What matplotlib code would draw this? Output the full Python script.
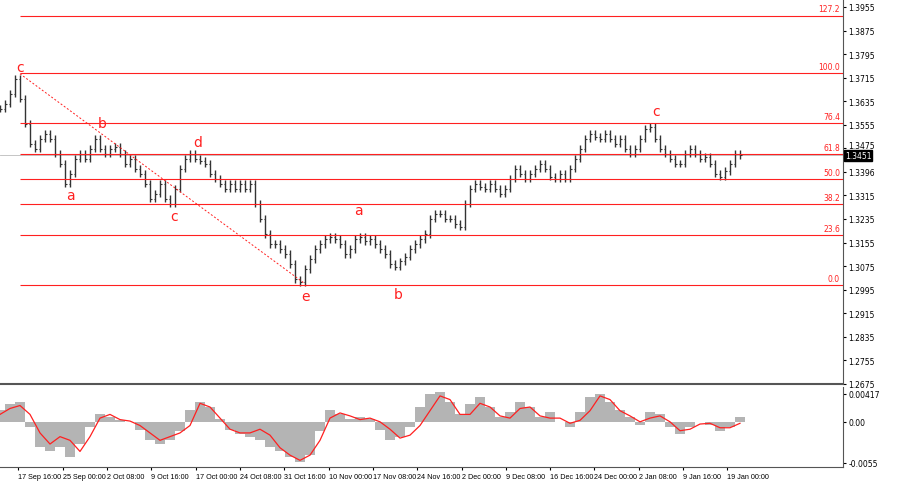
import matplotlib
matplotlib.use("Agg")
import matplotlib.pyplot as plt
import matplotlib.transforms as mtrans
import numpy as np

closes = [1.3609,1.3626,1.3660,1.3711,1.3643,1.3558,1.3490,1.3473,1.3507,1.3524,1.3507,1.3456,1.3422,1.3354,1.3388,
1.3439,1.3456,1.3439,1.3473,1.3507,1.3473,1.3456,1.3473,1.3480,1.3456,1.3422,1.3439,1.3405,1.3388,1.3354,
1.3303,1.3320,1.3354,1.3303,1.3286,1.3337,1.3405,1.3439,1.3456,1.3439,1.3432,1.3422,1.3388,1.3371,1.3354,
1.3337,1.3354,1.3337,1.3354,1.3337,1.3354,1.3286,1.3235,1.3184,1.3150,1.3150,1.3133,1.3116,1.3082,1.3031,
1.3021,1.3065,1.3099,1.3133,1.3150,1.3167,1.3174,1.3167,1.3150,1.3116,1.3133,1.3167,1.3174,1.3160,1.3167,
1.3150,1.3133,1.3116,1.3082,1.3072,1.3092,1.3106,1.3133,1.3150,1.3167,1.3184,1.3235,1.3252,1.3252,1.3235,
1.3235,1.3218,1.3208,1.3286,1.3337,1.3354,1.3344,1.3337,1.3354,1.3337,1.3320,1.3337,1.3371,1.3405,1.3388,
1.3371,1.3388,1.3405,1.3422,1.3405,1.3378,1.3371,1.3388,1.3371,1.3405,1.3439,1.3473,1.3507,1.3524,1.3514,
1.3507,1.3524,1.3507,1.3490,1.3507,1.3473,1.3456,1.3473,1.3507,1.3541,1.3548,1.3507,1.3473,1.3456,1.3439,
1.3422,1.3422,1.3456,1.3473,1.3456,1.3439,1.3446,1.3422,1.3388,1.3378,1.3398,1.3422,1.3456,1.3451]

hist = [0.0016,0.0024,0.0027,-0.0007,-0.0034,-0.0040,-0.0034,-0.0047,-0.0030,-0.0007,0.0011,0.0007,0.0003,0.0000,
-0.0011,-0.0024,-0.0030,-0.0024,-0.0013,0.0016,0.0027,0.0020,0.0004,-0.0011,-0.0016,-0.0020,-0.0024,-0.0034,
-0.0040,-0.0047,-0.0054,-0.0045,-0.0013,0.0016,0.0011,0.0004,0.0007,0.0004,-0.0011,-0.0024,-0.0020,-0.0007,
0.0020,0.0038,0.0040,0.0027,0.0011,0.0024,0.0034,0.0020,0.0007,0.0013,0.0027,0.0020,0.0007,0.0013,0.0000,
-0.0007,0.0013,0.0034,0.0038,0.0027,0.0016,0.0007,-0.0004,0.0013,0.0011,-0.0007,-0.0016,-0.0007,0.0000,
-0.0004,-0.0013,-0.0007,0.0007]

signal = [0.0010,0.0018,0.0022,0.0010,-0.0015,-0.0030,-0.0020,-0.0025,-0.0040,-0.0020,0.0005,0.0010,0.0003,0.0001,
-0.0005,-0.0015,-0.0025,-0.0020,-0.0015,-0.0005,0.0025,0.0020,0.0005,-0.0010,-0.0015,-0.0015,-0.0010,-0.0018,
-0.0035,-0.0045,-0.0052,-0.0045,-0.0025,0.0005,0.0012,0.0008,0.0003,0.0005,0.0000,-0.0010,-0.0022,-0.0018,
-0.0005,0.0015,0.0035,0.0030,0.0010,0.0010,0.0025,0.0020,0.0008,0.0005,0.0018,0.0020,0.0008,0.0005,0.0005,
-0.0002,0.0002,0.0015,0.0035,0.0030,0.0015,0.0008,0.0000,0.0005,0.0008,0.0000,-0.0012,-0.0010,-0.0003,
-0.0002,-0.0008,-0.0008,-0.0002]

price_ticks = [1.3955,1.3875,1.3795,1.3715,1.3635,1.3555,1.3475,1.3396,1.3315,1.3235,1.3155,1.3075,1.2995,1.2915,1.2835,1.2755,1.2675]
date_labels = ["17 Sep 16:00","25 Sep 00:00","2 Oct 08:00","9 Oct 16:00","17 Oct 00:00","24 Oct 08:00","31 Oct 16:00",
"10 Nov 00:00","17 Nov 08:00","24 Nov 16:00","2 Dec 00:00","9 Dec 08:00","16 Dec 16:00","24 Dec 00:00","2 Jan 08:00","9 Jan 16:00","19 Jan 00:00"]
date_pos = [18,63,107,151,196,240,284,329,373,417,462,506,550,594,639,683,727]
fib_levels = ["0.0","23.6","38.2","50.0","61.8","76.4","100.0","127.2"]
fib_ratio = [0.0,0.236,0.382,0.5,0.618,0.764,1.0,1.272]
fib_low, fib_high = 1.3011, 1.3730
waves = [("c",20,1.3752),("b",102,1.3560),("a",70,1.3315),("d",198,1.3497),("c",174,1.3245),("e",305,1.2975),
         ("a",358,1.3265),("b",398,1.2980),("c",656,1.3600)]
last_price = 1.3451

W, H = 900, 485
fig = plt.figure(figsize=(9, 4.85), dpi=100)
ax = fig.add_axes([0, 1 - 385/H, 843/W, 385/H])
ax2 = fig.add_axes([0, 1 - 468/H, 843/W, 80/H])

fs = 5.5
red = "#ff2020"
xs = np.arange(len(closes)) * 5.0
for i, c in enumerate(closes):
    o = closes[i-1] if i > 0 else c
    hi = max(o, c) + 0.0012
    lo = min(o, c) - 0.0012
    ax.vlines(xs[i], lo, hi, color="#333333", lw=1.0)
    ax.hlines(o, xs[i]-1.5, xs[i], color="#333333", lw=0.8)
    ax.hlines(c, xs[i], xs[i]+1.5, color="#333333", lw=0.8)

for lab, r in zip(fib_levels, fib_ratio):
    v = fib_low + r*(fib_high - fib_low)
    ax.hlines(v, 20, 843, color=red, lw=0.8)
    ax.text(840, v + 0.0008, lab, color=red, fontsize=fs, ha="right", va="bottom")
ax.plot([20, 305], [1.3728, 1.3015], color=red, lw=0.7, ls=(0, (2, 2)))
ax.axhline(last_price, color="#bbbbbb", lw=0.6, zorder=0)
for t, x, y in waves:
    ax.text(x, y, t, color=red, fontsize=10, ha="center", va="center")

ax.set_xlim(0, 843)
ax.set_ylim(1.3982 - 385*0.0003396, 1.3982)
ax.yaxis.tick_right()
ax.set_yticks(price_ticks)
ax.set_yticklabels([f"{v:.4f}" for v in price_ticks], fontsize=fs)
ax.set_xticks([])
ax.tick_params(axis="y", length=2, pad=2)
for s in ["top", "left"]:
    ax.spines[s].set_visible(False)
ax.spines["right"].set_color("#555555")
ax.spines["bottom"].set_linewidth(1.5)
ax.spines["bottom"].set_color("#555555")
for lbl in ax.get_yticklabels():
    if lbl.get_text() == "1.3475":
        lbl.set_transform(lbl.get_transform() + mtrans.ScaledTranslation(0, 3/72, fig.dpi_scale_trans))
ax.text(845, last_price, f"{last_price:.4f}", fontsize=fs, color="white", va="center", ha="left",
        bbox=dict(boxstyle="square,pad=0.1", fc="black", ec="black"), clip_on=False, zorder=5)

hx = np.arange(len(hist)) * 10.0
ax2.bar(hx, hist, width=10, color="#b4b4b4", linewidth=0)
ax2.plot(hx, signal, color=red, lw=0.9)
ax2.set_xlim(0, 843)
ax2.set_ylim(-0.0061, 0.0047)
ax2.yaxis.tick_right()
ax2.set_yticks([0.0038, 0.0, -0.0055])
ax2.set_yticklabels(["0.00417", "0.00", "-0.0055"], fontsize=fs)
ax2.set_xticks(date_pos)
ax2.set_xticklabels(date_labels, fontsize=5.2, ha="left", family="Liberation Sans")
ax2.tick_params(length=2, pad=2)
for s in ["top", "left"]:
    ax2.spines[s].set_visible(False)
ax2.spines["right"].set_color("#555555")
ax2.spines["bottom"].set_color("#555555")

fig.savefig("out.png", dpi=100)
